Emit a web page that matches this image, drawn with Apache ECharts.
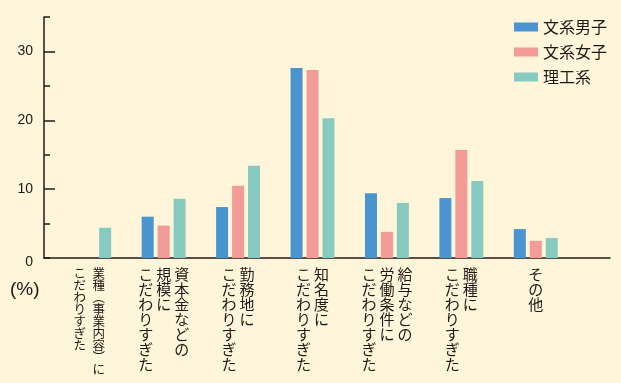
<!DOCTYPE html>
<html>
<head>
<meta charset="utf-8">
<script src="https://cdn.jsdelivr.net/npm/echarts@6/dist/echarts.min.js"></script>
<style>
  html, body { margin: 0; padding: 0; background: #fef5da; }
  #chart { width: 621px; height: 383px; }
</style>
</head>
<body>
<div id="chart"></div>
<script>
// categories: columns of vertical text, right column first
const categories = [
  '業種︵事業内容︶に\nこだわりすぎた',
  '資本金などの\n規模に\nこだわりすぎた',
  '勤務地に\nこだわりすぎた',
  '知名度に\nこだわりすぎた',
  '給与などの\n労働条件に\nこだわりすぎた',
  '職種に\nこだわりすぎた',
  'その他'
]
const seriesNames = ['文系男子', '文系女子', '理工系']
const bunkeiDanshi = [null, 6.0, 7.4, 27.6, 9.4, 8.7, 4.2]
const bunkeiJoshi = [null, 4.7, 10.5, 27.3, 3.8, 15.7, 2.5]
const rikoukei = [4.4, 8.6, 13.4, 20.3, 8.0, 11.2, 2.9]
const yLabels = [10, 20, 30]

const colors = ['#4a94d0', '#f29b97', '#87cbc0']
const ink = '#231815'
const cjk = 'Noto Sans CJK JP'
const latin = 'Liberation Sans'

// turn right-to-left columns into rows of rich text
const verticalLabel = (value, index) => {
  const cols = value.split('\n').reverse().map((c) => Array.from(c))
  const rows = Math.max(...cols.map((c) => c.length))
  const style = index === 0 ? 's' : 'c'
  const lines = []
  for (let r = 0; r < rows; r++) {
    lines.push(cols.map((c) => '{' + style + '|' + (c[r] || '　') + '}').join(''))
  }
  return lines.join('\n')
}

const chart = echarts.init(document.getElementById('chart'))

chart.setOption({
  backgroundColor: '#fef5da',
  animation: false,
  color: colors,
  title: {
    text: '(%)',
    left: 5,
    top: 275,
    textStyle: { fontSize: 19, fontWeight: 'normal', color: ink, fontFamily: latin },
  },
  legend: {
    orient: 'vertical',
    left: 514,
    top: 19,
    padding: 0,
    itemWidth: 24,
    itemHeight: 9,
    itemGap: 9,
    icon: 'rect',
    data: seriesNames,
    textStyle: { fontSize: 16, color: ink, fontFamily: cjk },
  },
  grid: [
    { left: 52, width: 521, top: 17, bottom: 125 },
    { left: 44, right: 11, top: 17, bottom: 125 },
  ],
  xAxis: [
    {
      gridIndex: 0,
      type: 'category',
      data: categories,
      axisLine: { show: false },
      axisTick: { show: false },
      axisLabel: {
        interval: 0,
        hideOverlap: false,
        margin: 9,
        color: ink,
        formatter: verticalLabel,
        rich: {
          c: { width: 18, align: 'center', fontSize: 15, lineHeight: 15, color: ink, fontFamily: cjk },
          s: { width: 19, align: 'center', fontSize: 12.5, lineHeight: 12, color: ink, fontFamily: cjk },
        },
      },
    },
    {
      gridIndex: 1,
      type: 'value',
      min: 0,
      max: 1,
      axisLine: { show: true, lineStyle: { color: ink, width: 1.5 } },
      axisTick: { show: false },
      axisLabel: { show: false },
      splitLine: { show: false },
    },
  ],
  yAxis: [
    { gridIndex: 0, type: 'value', min: 0, max: 35, show: false },
    {
      gridIndex: 1,
      type: 'value',
      position: 'left',
      min: 0,
      max: 35,
      interval: 5,
      axisLine: { show: true, lineStyle: { color: ink, width: 1.5 } },
      axisTick: { show: true, inside: true, length: 6, lineStyle: { color: ink, width: 1.5 } },
      axisLabel: {
        margin: 11,
        fontSize: 14,
        color: ink,
        fontFamily: latin,
        customValues: yLabels,
      },
      splitLine: { show: false },
    },
    {
      gridIndex: 1,
      type: 'value',
      position: 'left',
      offset: 0,
      min: 0,
      max: 35,
      interval: 5,
      axisLine: { show: false },
      axisTick: { show: true, inside: true, length: 11, customValues: yLabels, lineStyle: { color: ink, width: 1.5 } },
      // zero sits a little below the axis line
      axisLabel: {
        margin: 11,
        fontSize: 14,
        lineHeight: 9,
        verticalAlign: 'top',
        color: ink,
        fontFamily: latin,
        customValues: [0],
      },
      splitLine: { show: false },
    },
  ],
  series: [
    { name: seriesNames[0], type: 'bar', data: bunkeiDanshi, barWidth: 12, barGap: '33%' },
    { name: seriesNames[1], type: 'bar', data: bunkeiJoshi, barWidth: 12, barGap: '33%' },
    { name: seriesNames[2], type: 'bar', data: rikoukei, barWidth: 12, barGap: '33%' },
  ],
})
</script>
</body>
</html>
